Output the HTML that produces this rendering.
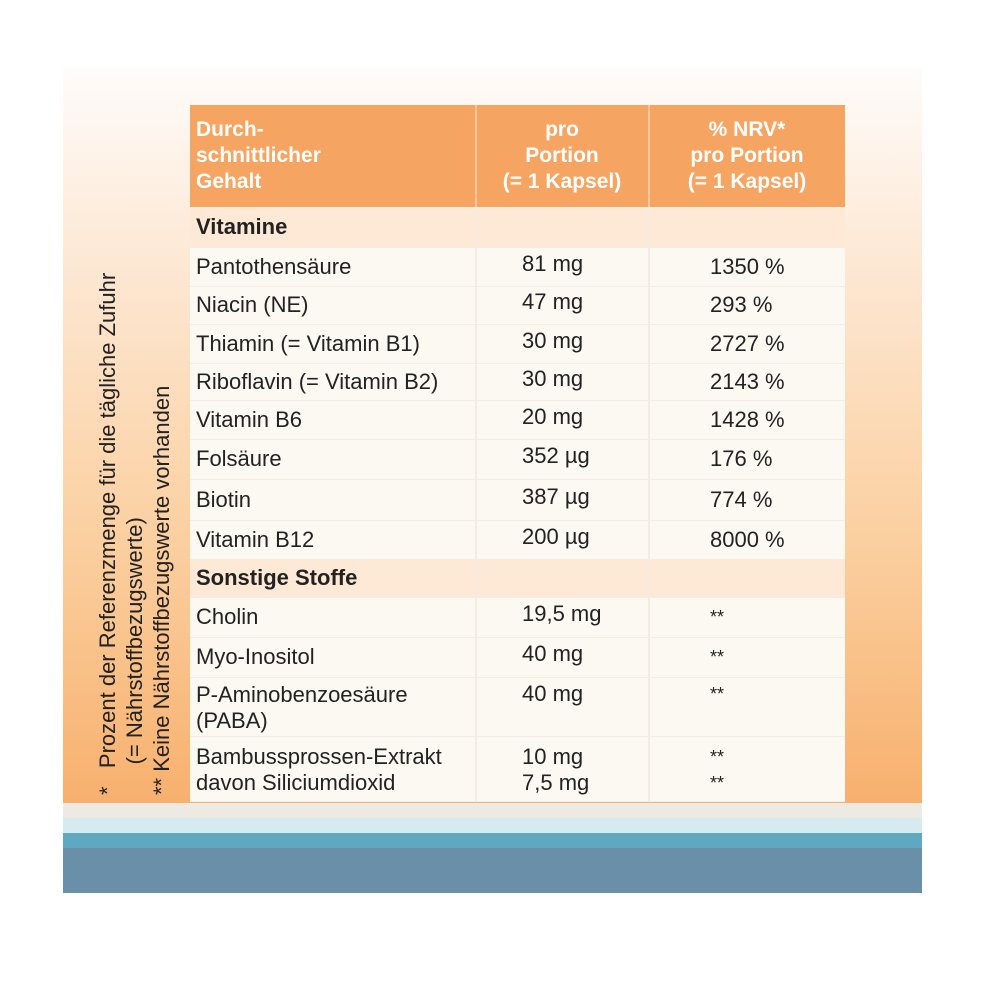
<!DOCTYPE html>
<html><head><meta charset="utf-8"><style>
body{margin:0;background:#fff;width:1000px;height:1000px;position:relative;overflow:hidden;font-family:"Liberation Sans",sans-serif;}
.abs{position:absolute;}
#panel{left:63px;top:68px;width:859px;height:735px;background:linear-gradient(#fefcfa 0%,#fde9d6 25%,#fbcf9f 65%,#f7b06e 100%);}
.band{left:63px;width:859px;}
.cell{position:absolute;font-size:22px;color:#222;line-height:24px;white-space:nowrap;}
.hdr{color:#fff;font-weight:bold;font-size:21px;line-height:26px;}
.row{position:absolute;left:190px;width:655px;background:#fcf9f3;border-bottom:1px solid #f3ede4;}
.vl{position:absolute;top:0;bottom:0;width:2px;background:#f2ece4;}
#table{left:0;top:0;width:1000px;height:1000px;}
</style></head><body>
<div id="panel" class="abs"></div>
<div class="abs band" style="top:803px;height:15px;background:#eceae2"></div>
<div class="abs band" style="top:818px;height:15px;background:#d5ebf0"></div>
<div class="abs band" style="top:833px;height:15px;background:#5fa9c0"></div>
<div class="abs band" style="top:848px;height:45px;background:#6990a8"></div>

<div class="abs" style="left:94px;top:190px;width:82px;height:605px;writing-mode:vertical-rl;transform:rotate(180deg);font-size:22px;line-height:27px;color:#222;white-space:nowrap;">
<div>*&nbsp;&nbsp; Prozent der Referenzmenge für die tägliche Zufuhr</div>
<div>&nbsp;&nbsp;&nbsp;&nbsp; (= Nährstoffbezugswerte)</div>
<div>** Keine Nährstoffbezugswerte vorhanden</div>
</div>

<div id="table" class="abs">
<div class="abs" style="left:190px;top:105px;width:655px;height:102px;background:#f5a561"></div>
<div class="abs" style="left:475px;top:105px;width:2px;height:102px;background:#f8c79a"></div>
<div class="abs" style="left:648px;top:105px;width:2px;height:102px;background:#f8c79a"></div>
<div class="cell hdr" style="left:196px;top:117px">Durch-<br>schnittlicher<br>Gehalt</div>
<div class="cell hdr" style="left:476px;width:172px;top:117px;text-align:center">pro<br>Portion<br>(= 1 Kapsel)</div>
<div class="cell hdr" style="left:649px;width:196px;top:117px;text-align:center">% NRV*<br>pro Portion<br>(= 1 Kapsel)</div>
<div id="rows"></div>
</div>

<script>
const names=["Vitamine","Pantothensäure","Niacin (NE)","Thiamin (= Vitamin B1)","Riboflavin (= Vitamin B2)","Vitamin B6","Folsäure","Biotin","Vitamin B12","Sonstige Stoffe","Cholin","Myo-Inositol","P-Aminobenzoesäure<br>(PABA)","Bambussprossen-Extrakt<br>davon Siliciumdioxid"];
const amounts=["","81 mg","47 mg","30 mg","30 mg","20 mg","352 µg","387 µg","200 µg","","19,5 mg","40 mg","40 mg","10 mg<br>7,5 mg"];
const nrv=["","1350 %","293 %","2727 %","2143 %","1428 %","176 %","774 %","8000 %","","**","**","**","**<br>**"];
const tops=[208,248,287,325,364,401,440,480,521,560,598,638,678,737,802];
const c=document.getElementById('rows');
for(let i=0;i<names.length;i++){
  const t=tops[i],h=tops[i+1]-t;
  const sec=(i===0||i===9);
  const r=document.createElement('div');
  
  
  r.className='row';
  r.style.top=t+'px';r.style.height=(h-1)+'px';
  if(sec) r.style.background='#fde9d6';
  r.innerHTML='<div class="vl" style="left:285px"></div><div class="vl" style="left:458px"></div>';
  c.appendChild(r);
  const two=names[i].includes('<br>');
  const ty=t+(h-(two?50:24))/2-1;
  const n=document.createElement('div');
  
  
  n.className='cell';n.style.left='196px';n.style.top=ty+'px';
  if(sec)n.style.fontWeight='bold';
  if(two)n.style.lineHeight='26px';
  n.innerHTML=names[i];c.appendChild(n);
  const a=document.createElement('div');
  
  
  a.className='cell';a.style.left='522px';
  a.style.top=(amounts[i].includes('<br>')?ty:(two?ty:ty-3))+'px';
  if(amounts[i].includes('<br>'))a.style.lineHeight='26px';
  a.innerHTML=amounts[i];c.appendChild(a);
  const p=document.createElement('div');
  
  
  p.className='cell';p.style.left='710px';p.style.top=ty+'px';
  if(nrv[i].startsWith('*'))p.style.fontSize='18px';
  if(nrv[i].includes('<br>'))p.style.lineHeight='26px';
  p.innerHTML=nrv[i];c.appendChild(p);
}
</script>
</body></html>
